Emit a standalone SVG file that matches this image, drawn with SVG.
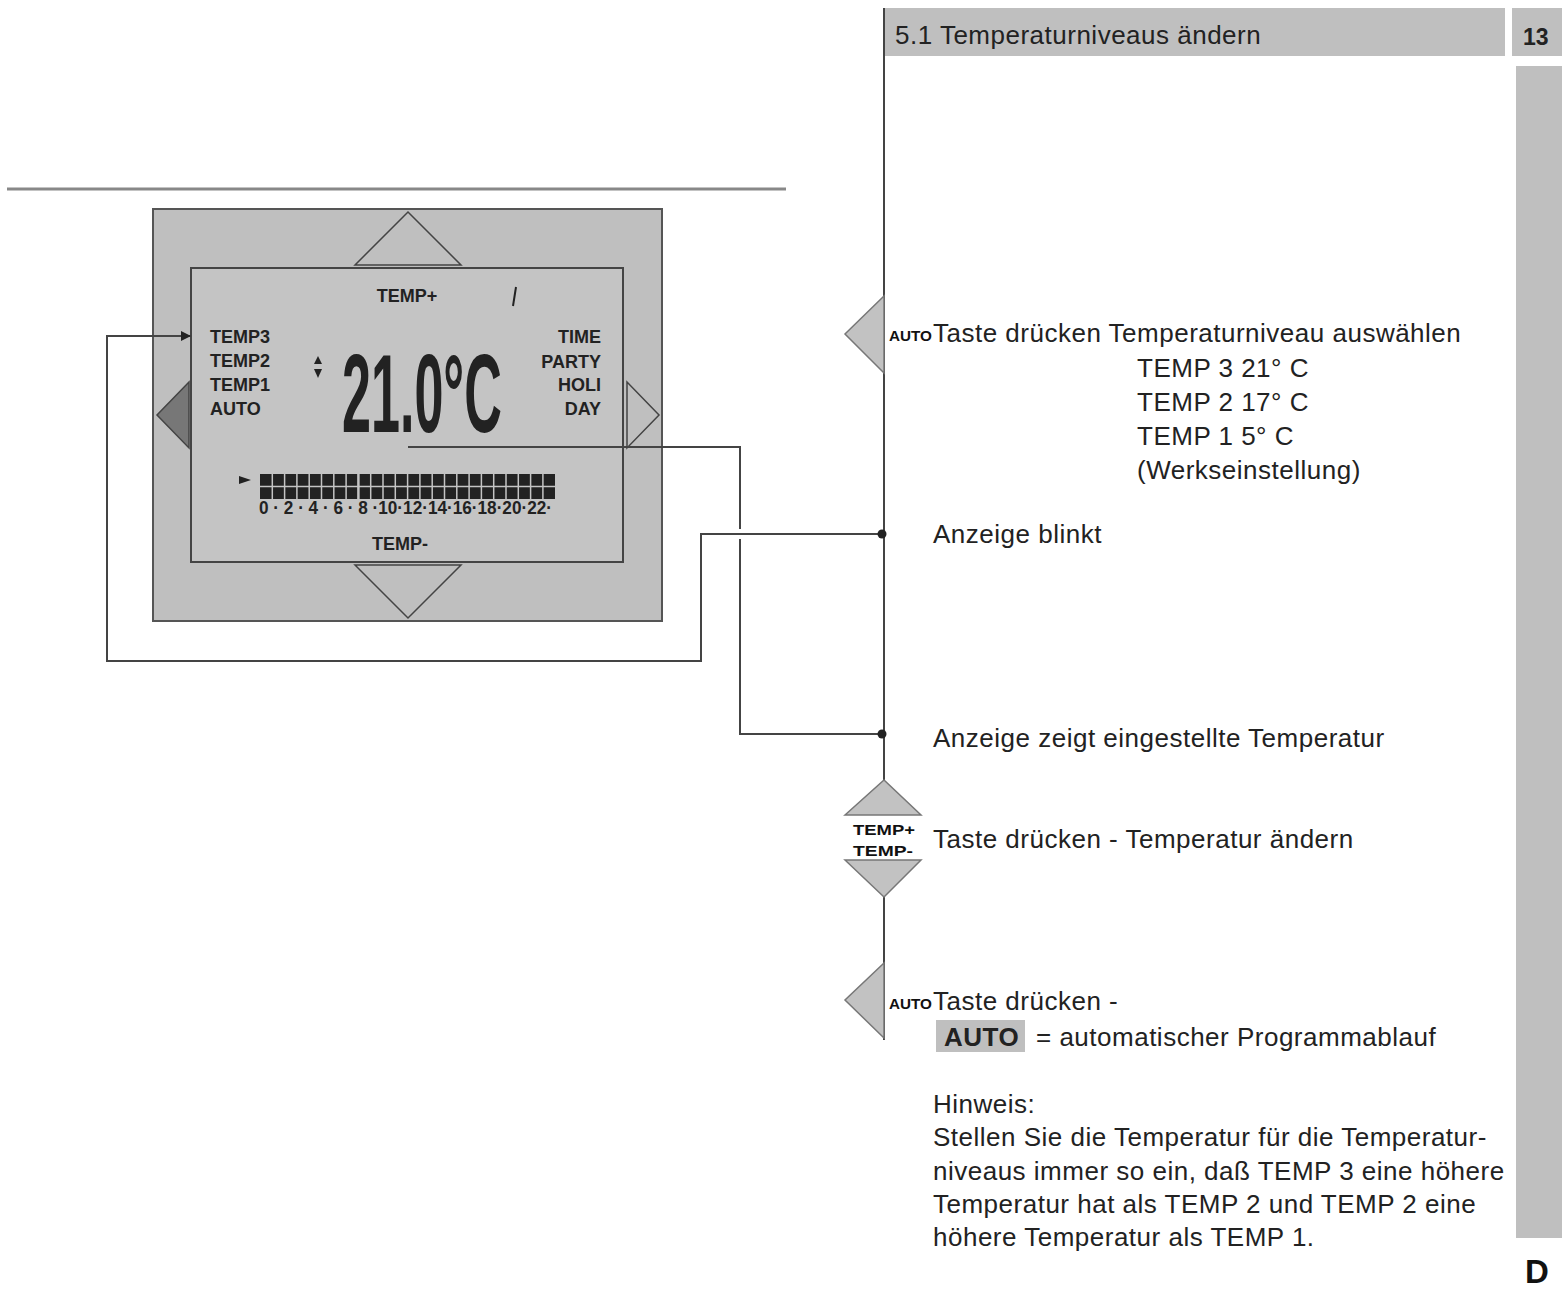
<svg xmlns="http://www.w3.org/2000/svg" width="1562" height="1293" viewBox="0 0 1562 1293">
<style>
.t{font-family:"Liberation Sans",Arial,sans-serif;font-size:26px;letter-spacing:0.5px;fill:#222}
.lcd{font-family:"Liberation Sans",Arial,sans-serif;font-weight:bold;font-size:18px;fill:#222}
.sm{font-family:"Liberation Sans",Arial,sans-serif;font-weight:bold;font-size:14px;fill:#111}
.ln{fill:none;stroke:#444;stroke-width:2}
.btn{fill:#c2c2c2;stroke:#777;stroke-width:1.5}
</style>
<defs>
<marker id="ah" markerWidth="10" markerHeight="10" refX="9" refY="5" orient="auto" markerUnits="userSpaceOnUse">
<path d="M0,0 L10,5 L0,10 z" fill="#222"/>
</marker>
</defs>
<rect width="1562" height="1293" fill="#fff"/>

<g id="header">
<rect x="884" y="8" width="621" height="48" fill="#bfbfbf"/>
<text x="895" y="44" class="t">5.1 Temperaturniveaus ändern</text>
<rect x="1512" y="8" width="50" height="48" fill="#bfbfbf"/>
<text x="1523" y="45" style="font-family:'Liberation Sans',Arial,sans-serif;font-weight:bold;font-size:23px;fill:#222">13</text>
<rect x="1516" y="66" width="46" height="1172" fill="#bfbfbf"/>
<text x="1525" y="1283" style="font-family:'Liberation Sans',Arial,sans-serif;font-weight:bold;font-size:33px;fill:#111">D</text>
</g>

<line x1="7" y1="189" x2="786" y2="189" stroke="#888" stroke-width="3"/>

<g id="device">
<rect x="153" y="209" width="509" height="412" fill="#bfbfbf" stroke="#555" stroke-width="2"/>
<polygon points="355,265 408,212 461,265" fill="#bfbfbf" stroke="#444" stroke-width="1.5"/>
<polygon points="355,565 408,618 461,565" fill="#bfbfbf" stroke="#444" stroke-width="1.5"/>
<polygon points="189,382 157,415 189,448" fill="#777" stroke="#444" stroke-width="1.5"/>
<polygon points="627,382 659,415 627,448" fill="#bfbfbf" stroke="#444" stroke-width="1.5"/>
<rect x="191" y="268" width="432" height="294" fill="#c4c4c4" stroke="#444" stroke-width="2"/>
<text x="407" y="302" class="lcd" text-anchor="middle" font-size="17">TEMP+</text>
<line x1="516" y1="287" x2="513" y2="306" stroke="#222" stroke-width="2"/>
<text x="210" y="343" class="lcd">TEMP3</text>
<text x="210" y="367" class="lcd">TEMP2</text>
<text x="210" y="391" class="lcd">TEMP1</text>
<text x="210" y="415" class="lcd">AUTO</text>
<text x="601" y="343" class="lcd" text-anchor="end">TIME</text>
<text x="601" y="368" class="lcd" text-anchor="end">PARTY</text>
<text x="601" y="391" class="lcd" text-anchor="end">HOLI</text>
<text x="601" y="415" class="lcd" text-anchor="end">DAY</text>
<polygon points="318,356 322,364 314,364" fill="#222"/>
<polygon points="318,378 322,369 314,369" fill="#222"/>
<text transform="translate(342,432) scale(0.465,1)" style="font-family:'Liberation Sans',Arial,sans-serif;font-size:112px;font-weight:bold;fill:#222">21.0°C</text>
<polygon points="239,476 251,480 239,484" fill="#222"/>
<rect x="260" y="474" width="295" height="25" fill="#222"/>
<g stroke="#c4c4c4" stroke-width="1.5">
<line x1="260" y1="486.5" x2="555" y2="486.5"/>
<line x1="272.3" y1="474" x2="272.3" y2="499"/><line x1="284.6" y1="474" x2="284.6" y2="499"/><line x1="296.9" y1="474" x2="296.9" y2="499"/><line x1="309.2" y1="474" x2="309.2" y2="499"/><line x1="321.5" y1="474" x2="321.5" y2="499"/><line x1="333.8" y1="474" x2="333.8" y2="499"/><line x1="346.1" y1="474" x2="346.1" y2="499"/><line x1="358.4" y1="474" x2="358.4" y2="499" stroke-width="2.5"/><line x1="370.7" y1="474" x2="370.7" y2="499"/><line x1="383" y1="474" x2="383" y2="499"/><line x1="395.3" y1="474" x2="395.3" y2="499"/><line x1="407.6" y1="474" x2="407.6" y2="499"/><line x1="419.9" y1="474" x2="419.9" y2="499"/><line x1="432.2" y1="474" x2="432.2" y2="499"/><line x1="444.5" y1="474" x2="444.5" y2="499"/><line x1="456.8" y1="474" x2="456.8" y2="499"/><line x1="469.1" y1="474" x2="469.1" y2="499"/><line x1="481.4" y1="474" x2="481.4" y2="499"/><line x1="493.7" y1="474" x2="493.7" y2="499"/><line x1="506" y1="474" x2="506" y2="499"/><line x1="518.3" y1="474" x2="518.3" y2="499"/><line x1="530.6" y1="474" x2="530.6" y2="499"/><line x1="542.9" y1="474" x2="542.9" y2="499"/>
</g>
<text x="259" y="514" class="lcd" font-size="13" textLength="293" lengthAdjust="spacingAndGlyphs">0 · 2 · 4 · 6 · 8 ·10·12·14·16·18·20·22·</text>
<text x="400" y="550" class="lcd" text-anchor="middle" font-size="17">TEMP-</text>
</g>

<g id="connectors">
<line x1="884" y1="8" x2="884" y2="780" class="ln"/>
<line x1="884" y1="897" x2="884" y2="1040" class="ln"/>
<polyline points="882,534 701,534 701,661 107,661 107,336 190,336" class="ln" marker-end="url(#ah)"/>
<polyline points="408,447 740,447 740,529" class="ln"/>
<polyline points="740,539 740,734 882,734" class="ln"/>
<circle cx="882" cy="534" r="4.5" fill="#222"/>
<circle cx="882" cy="734" r="4.5" fill="#222"/>
</g>

<g id="step1">
<polygon points="884,296 845,334 884,373" class="btn"/>
<text x="889" y="341" class="sm" font-size="14" textLength="43" lengthAdjust="spacingAndGlyphs">AUTO</text>
<text x="933" y="342" class="t">Taste drücken Temperaturniveau auswählen</text>
<text x="1137" y="377" class="t">TEMP 3 21° C</text>
<text x="1137" y="411" class="t">TEMP 2 17° C</text>
<text x="1137" y="445" class="t">TEMP 1 5° C</text>
<text x="1137" y="479" class="t">(Werkseinstellung)</text>
</g>

<g id="step2">
<text x="933" y="543" class="t">Anzeige blinkt</text>
</g>

<g id="step3">
<text x="933" y="747" class="t">Anzeige zeigt eingestellte Temperatur</text>
</g>

<g id="step4">
<polygon points="845,815 884,780 921,815" class="btn"/>
<polygon points="845,860 884,897 921,860" class="btn"/>
<text x="853" y="835" class="sm" font-size="19" textLength="62" lengthAdjust="spacingAndGlyphs">TEMP+</text>
<text x="853" y="856" class="sm" font-size="19" textLength="60" lengthAdjust="spacingAndGlyphs">TEMP-</text>
<text x="933" y="848" class="t">Taste drücken - Temperatur ändern</text>
</g>

<g id="step5">
<polygon points="884,963 845,1000 884,1038" class="btn"/>
<text x="889" y="1009" class="sm" font-size="14" textLength="43" lengthAdjust="spacingAndGlyphs">AUTO</text>
<text x="933" y="1010" class="t">Taste drücken -</text>
<rect x="936" y="1020" width="89" height="32" fill="#bfbfbf"/>
<text x="944" y="1046" class="t" font-weight="bold" fill="#111">AUTO</text>
<text x="1036" y="1046" class="t">= automatischer Programmablauf</text>
</g>

<g id="note">
<text x="933" y="1113" class="t">Hinweis:</text>
<text x="933" y="1146" class="t">Stellen Sie die Temperatur für die Temperatur-</text>
<text x="933" y="1180" class="t">niveaus immer so ein, daß TEMP 3 eine höhere</text>
<text x="933" y="1213" class="t">Temperatur hat als TEMP 2 und TEMP 2 eine</text>
<text x="933" y="1246" class="t">höhere Temperatur als TEMP 1.</text>
</g>
</svg>
